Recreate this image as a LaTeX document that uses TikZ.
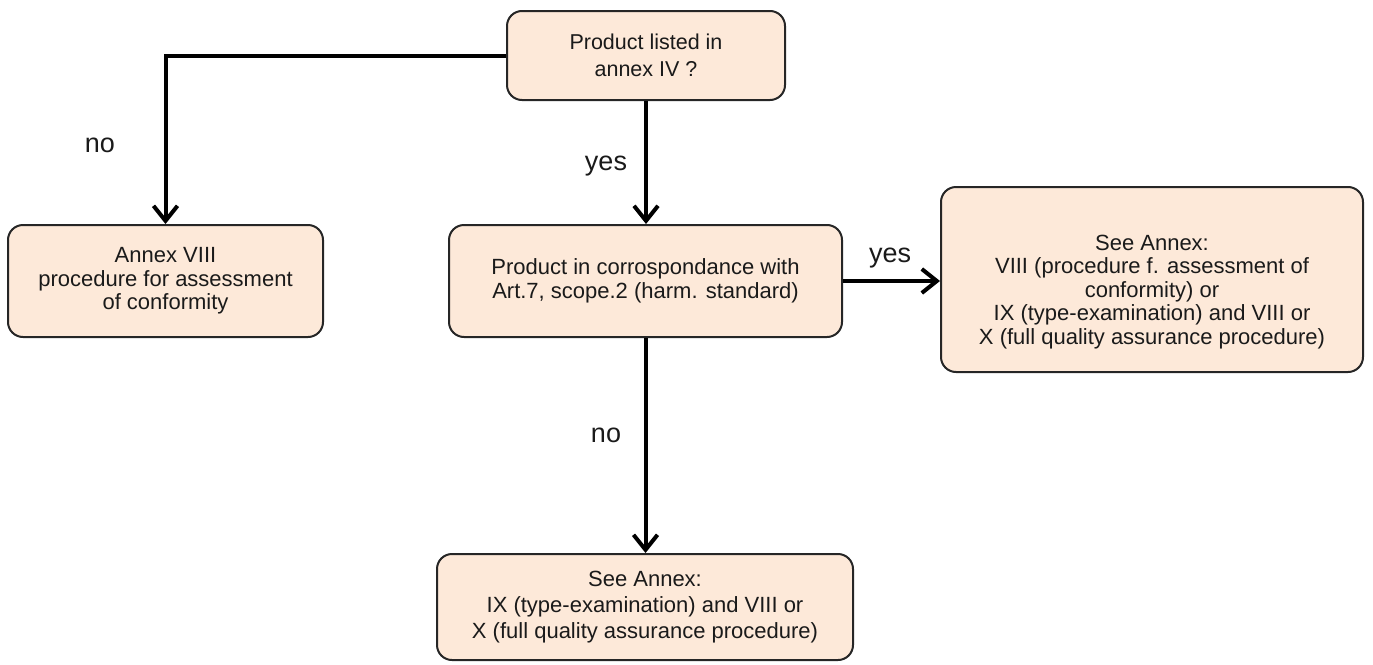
\documentclass[tikz,border=0pt]{standalone}
\usepackage{fontspec}
\setmainfont{Liberation Sans}
\usetikzlibrary{arrows.meta}

\definecolor{boxfill}{HTML}{FDE9D9}
\definecolor{boxline}{HTML}{262626}
\definecolor{txt}{HTML}{1A1A1A}

\tikzset{
  box/.style={draw=boxline, line width=2pt, fill=boxfill, rounded corners=15pt,
    align=center, text=txt, inner sep=0pt, font=\fontsize{22}{23.5}\selectfont},
  flow/.style={line width=4pt, -{Straight Barb[length=15pt, width=24pt]}},
  answer/.style={anchor=base, text=txt, font=\fontsize{27}{30}\selectfont}
}

\begin{document}
\begin{tikzpicture}[x=1pt, y=-1pt]
        \useasboundingbox (0, 0) rectangle (1373, 664);

        \node[box, minimum width=278, minimum height=89, font=\fontsize{21.5}{27}\selectfont]
          at (646, 55.5) (listed) {Product listed in\\annex IV ?};
        \node[box, minimum width=315, minimum height=112] at (165.5, 281) (conformity)
          {Annex VIII\\procedure for assessment\\of conformity};
        \node[box, minimum width=393, minimum height=112] at (645.5, 281) (harm)
          {Product in corrospondance with\\Art.7, scope.2 (harm. standard)};
        \node[box, minimum width=422, minimum height=185] at (1152, 279.5) (annexyes)
          {\rule{0pt}{40pt}See Annex:\\VIII (procedure f. assessment of\\conformity) or\\IX (type-examination) and VIII or\\X (full quality assurance procedure)};
        \node[box, minimum width=416, minimum height=106, font=\fontsize{22}{26}\selectfont]
          at (645, 607) (annexno)
          {See Annex:\\IX (type-examination) and VIII or\\X (full quality assurance procedure)};

        \node[answer] at (100, 152) (noleft) {no};
        \node[answer] at (606, 170) (yesdown) {yes};
        \node[answer] at (890, 262) (yesright) {yes};
        \node[answer] at (606, 442) (nodown) {no};

        \draw[flow] (listed.west) -| (conformity.north);
        \draw[flow] (listed.south) -- (listed.south |- harm.north);
        \draw[flow] (harm.east) -- (harm.east -| annexyes.west);
        \draw[flow] (harm.south) -- (harm.south |- annexno.north);

\end{tikzpicture}
\end{document}
